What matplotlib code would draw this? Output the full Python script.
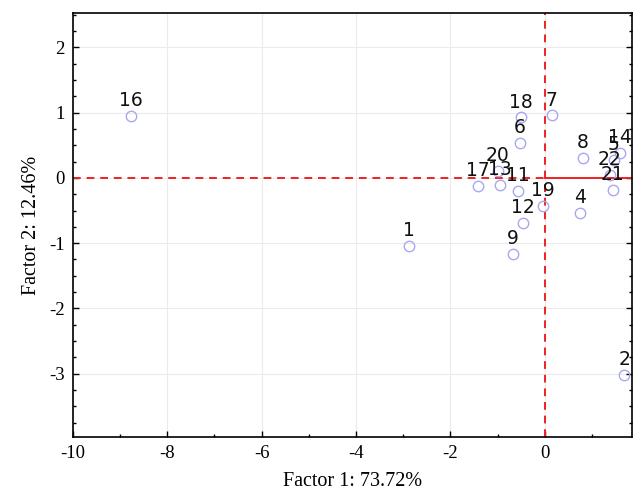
import numpy as np
import matplotlib
matplotlib.use('Agg')
import matplotlib.pyplot as plt
from matplotlib.ticker import MultipleLocator

plt.rcParams['axes.unicode_minus'] = False

# Factor scores
labels = ['16', '1', '18', '7', '6', '8', '14', '5', '22', '21',
          '20', '17', '13', '11', '19', '4', '12', '9', '2']
factor1 = [-8.77, -2.88, -0.51, 0.15, -0.53, 0.81, 1.59, 1.46, 1.38, 1.44,
           -1.00, -1.42, -0.95, -0.57, -0.04, 0.74, -0.47, -0.68, 1.69]
factor2 = [0.95, -1.04, 0.93, 0.96, 0.54, 0.31, 0.38, 0.28, 0.05, -0.18,
           0.11, -0.12, -0.11, -0.20, -0.43, -0.54, -0.69, -1.16, -3.02]

fig = plt.figure(figsize=(6.4, 4.93), dpi=100)
ax = fig.add_axes([0.114, 0.1136, 0.8735, 0.8604])

xmin, xmax = -10, 1.85
ymin, ymax = -3.97, 2.53
ax.set_xlim(xmin, xmax)
ax.set_ylim(ymin, ymax)

ax.grid(True, which='major', color='#ebebeb', linewidth=0.8)
ax.set_axisbelow(True)

# reference lines through the origin
ax.axvline(0, color='#ee2222', linestyle=(0, (4, 3)), linewidth=1.4, zorder=2)
ax.axhline(0, xmax=(0 - xmin) / (xmax - xmin), color='#ee2222',
           linestyle=(0, (4, 3)), linewidth=1.4, zorder=2)
ax.axhline(0, xmin=(0 - xmin) / (xmax - xmin), color='#ee2222',
           linewidth=1.4, zorder=2)

ax.plot(factor1, factor2, 'o', markersize=7.5, markerfacecolor='none',
        markeredgecolor='#a8a8f0', markeredgewidth=1.0, zorder=3)

for lab, x, y in zip(labels, factor1, factor2):
    ax.annotate(lab, (x, y), xytext=(0, 7), textcoords='offset points',
                ha='center', va='baseline', fontsize=13.5,
                family='DejaVu Sans', color='#111111', zorder=4)

ax.xaxis.set_major_locator(MultipleLocator(2))
ax.xaxis.set_minor_locator(MultipleLocator(1))
ax.yaxis.set_major_locator(MultipleLocator(1))
ax.yaxis.set_minor_locator(MultipleLocator(0.25))
ax.tick_params(which='both', direction='in', top=False, right=True)
ax.tick_params(which='major', length=4, width=1)
ax.tick_params(which='minor', length=2.5, width=1)
ax.tick_params(labelsize=13.5, pad=6)
for t in ax.get_xticklabels() + ax.get_yticklabels():
    t.set_family('Liberation Serif')
for s in ax.spines.values():
    s.set_linewidth(1.2)

ax.set_xlabel('Factor 1: 73.72%', family='Liberation Serif', fontsize=14.5, labelpad=7)
ax.set_ylabel('Factor 2: 12.46%', family='Liberation Serif', fontsize=14.5, labelpad=6)

fig.savefig('out.png', dpi=100)
